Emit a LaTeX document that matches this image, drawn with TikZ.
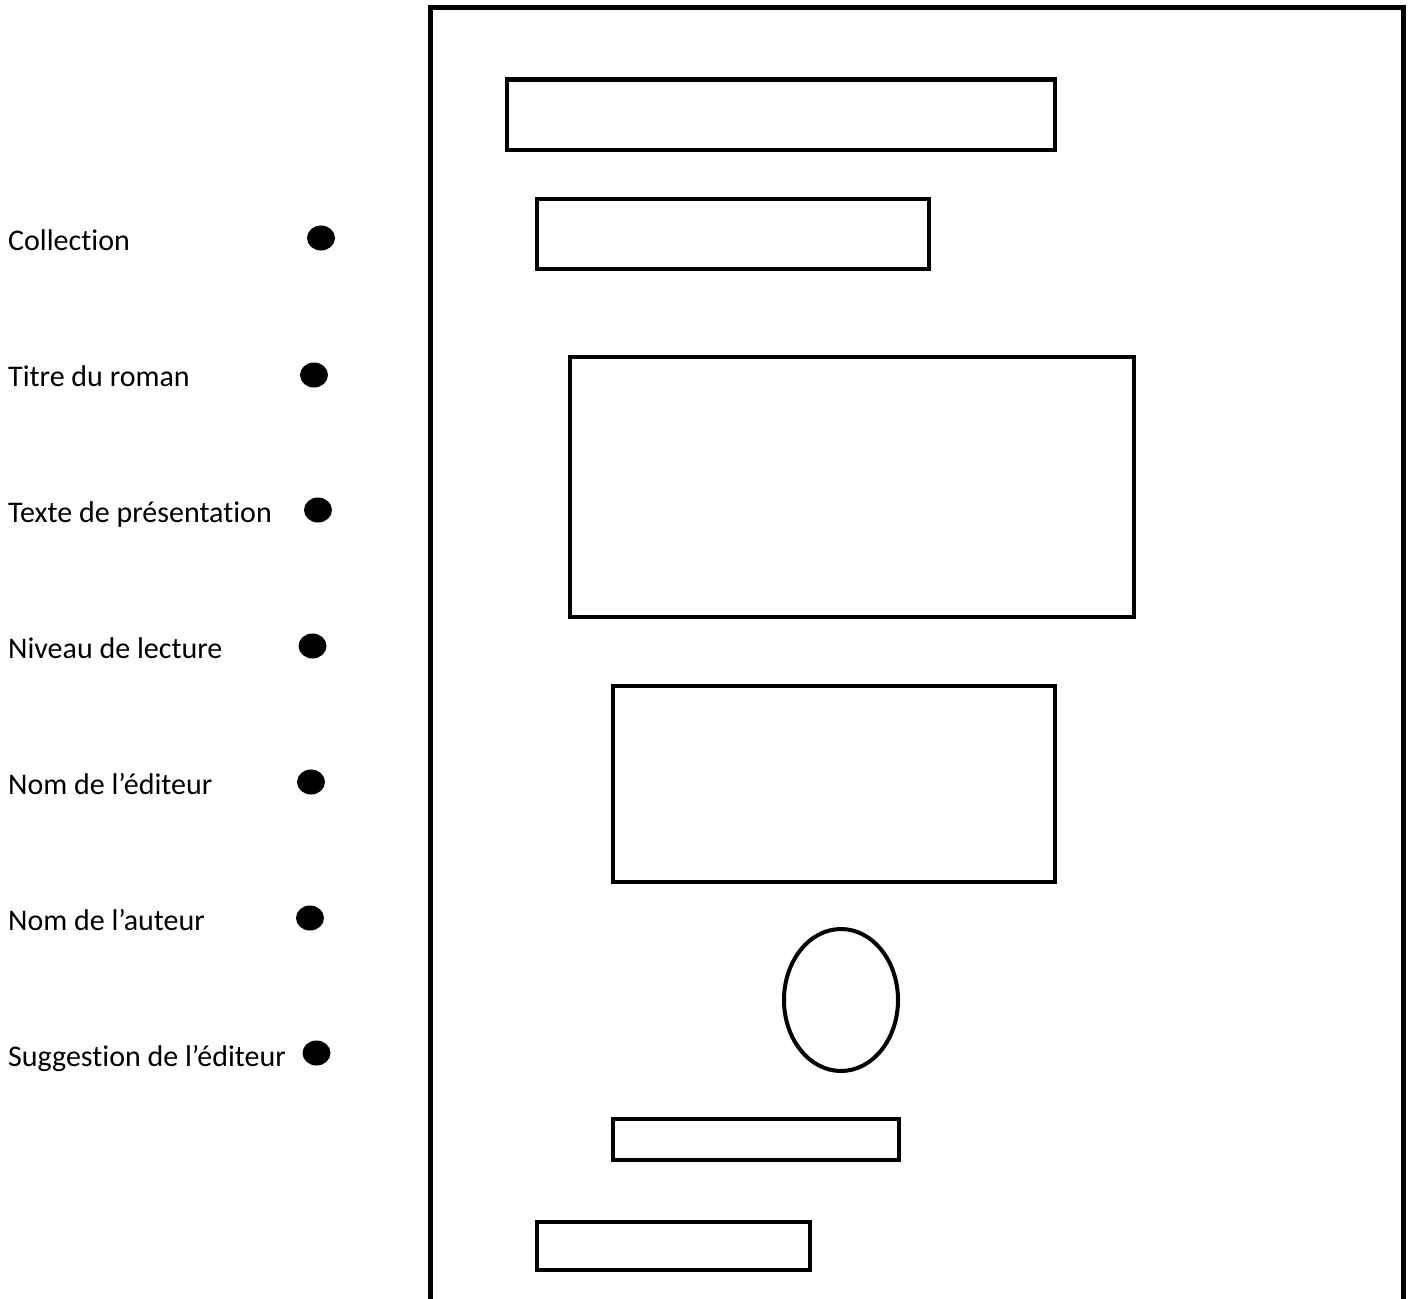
\documentclass[tikz,border=0pt]{standalone}
\usepackage{fontspec}
\setmainfont{Carlito}[Ligatures=NoCommon]
\usepackage{tikz}
\usetikzlibrary{positioning}

\tikzset{
  cadre/.style={line width=4.6pt},
  bloc/.style={line width=4.6pt},
  rubrique/.style={anchor=base west, inner sep=0pt, font=\fontsize{30}{35}\selectfont},
  puce/.style={fill=black}
}

\begin{document}
\begin{tikzpicture}[x=1pt, y=-1pt]
  \useasboundingbox (0,0) rectangle (1409,1299);
  % Page (ouverte en bas)
  \draw[cadre, line join=miter] (430.5,1299) -- (430.5,7.5) -- (1403.5,7.5) -- (1403.5,1299);
  % Rubriques et puces
  \foreach \nom/\lab/\yb/\xp/\yp in {
      coll/Collection/250/321/238,
      titre/Titre du roman/386/314/375,
      texte/Texte de présentation/522/318/510,
      niveau/Niveau de lecture/658/312.5/646,
      edit/Nom de l’éditeur/794/311/782,
      aut/Nom de l’auteur/930/310/918,
      sugg/Suggestion de l’éditeur/1066/316.5/1053}
  {
    \node[rubrique] (\nom) at (8,\yb) {\lab};
    \fill[puce] (\xp,\yp) ellipse (14pt and 12.5pt);
  }
  % Cadres de la couverture
  \draw[bloc] (507,79.5) rectangle (1055,150);
  \draw[bloc] (537,199) rectangle (929,269);
  \draw[bloc] (570,357) rectangle (1134,617);
  \draw[bloc] (613,686) rectangle (1055,882);
  \draw[line width=4pt] (841,1000) ellipse (57pt and 71pt);
  \draw[bloc] (613,1119) rectangle (899,1160);
  \draw[bloc] (537,1222) rectangle (810,1270);
\end{tikzpicture}
\end{document}
